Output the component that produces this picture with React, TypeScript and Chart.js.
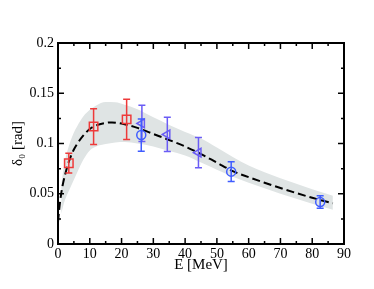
import { useEffect, useRef } from 'react';
import { Chart, registerables } from 'chart.js';

Chart.register(...registerables);

// Axis ticks
const xMajor = [0, 10, 20, 30, 40, 50, 60, 70, 80, 90];
const xMinor = [5, 15, 25, 35, 45, 55, 65, 75, 85];
const xTickLabels = ['0', '10', '20', '30', '40', '50', '60', '70', '80', '90'];
const yMajor = [0, 0.05, 0.1, 0.15, 0.2];
const yMinor = [0.025, 0.075, 0.125, 0.175];
const yTickLabels = ['0', '0.05', '0.1', '0.15', '0.2'];

// Theory curve (dashed)
const curveE = [0, 0.5, 1, 1.5, 2, 3, 4, 5, 6, 8, 10, 12, 15, 17, 20, 25, 30, 35, 40, 45, 50, 55, 60, 65, 70, 75, 80, 86.5];
const curveV = [0.022, 0.038, 0.05, 0.059, 0.066, 0.078, 0.087, 0.094, 0.0995, 0.108, 0.1145, 0.118, 0.1205, 0.121, 0.1198, 0.1155, 0.1095, 0.1035, 0.097, 0.0895, 0.081, 0.0725, 0.0665, 0.061, 0.0557, 0.0507, 0.046, 0.0405];

// Uncertainty band
const bandE = [1, 2, 3, 4, 5, 6, 8, 10, 12, 15, 18, 21, 25, 30, 35, 40, 45, 50, 55, 60, 65, 70, 75, 80, 86.5];
const bandUpper = [0.058, 0.08, 0.093, 0.103, 0.111, 0.117, 0.127, 0.1335, 0.1378, 0.1412, 0.141, 0.1385, 0.134, 0.126, 0.1185, 0.1115, 0.105, 0.096, 0.0865, 0.078, 0.0715, 0.0655, 0.06, 0.0545, 0.048];
const bandLower = [0.03, 0.042, 0.05, 0.057, 0.064, 0.071, 0.084, 0.093, 0.097, 0.0995, 0.101, 0.1015, 0.1, 0.097, 0.0925, 0.088, 0.081, 0.074, 0.067, 0.061, 0.0555, 0.05, 0.045, 0.04, 0.034];

// Data sets
const redE = [3.4, 11.2, 21.6];
const redV = [0.0804, 0.1168, 0.124];
const redErr = [0.0098, 0.0178, 0.02];

const triE = [26.4, 34.4, 44.2];
const triV = [0.12, 0.109, 0.0909];
const triErr = [0.018, 0.017, 0.015];

const circE = [26.2, 54.5, 82.5];
const circV = [0.1084, 0.072, 0.0417];
const circErr = [0.016, 0.0099, 0.0062];

const RED = '#ee3a3a';
const BLUE = '#3f5cff';
const VIOLET = '#6a5cf5';
const FONT = "'Liberation Serif', 'DejaVu Serif', serif";

const pts = (xs: number[], ys: number[]) => xs.map((x, i) => ({ x, y: ys[i] }));

const errorBarPlugin = {
  id: 'errorBars',
  beforeDatasetDraw(chart: any, args: any) {
    const ds = chart.data.datasets[args.index];
    if (!ds.errors) return;
    const { ctx, scales } = chart;
    ctx.save();
    ctx.strokeStyle = ds.borderColor;
    ctx.lineWidth = 1.5;
    args.meta.data.forEach((el: any, i: number) => {
      const v = ds.data[i].y;
      const e = ds.errors[i];
      const yt = scales.y.getPixelForValue(v + e);
      const yb = scales.y.getPixelForValue(v - e);
      const x = el.x;
      ctx.beginPath();
      ctx.moveTo(x, yt);
      ctx.lineTo(x, yb);
      ctx.moveTo(x - 3.5, yt);
      ctx.lineTo(x + 3.5, yt);
      ctx.moveTo(x - 3.5, yb);
      ctx.lineTo(x + 3.5, yb);
      ctx.stroke();
    });
    ctx.restore();
  },
};

const framePlugin = {
  id: 'frame',
  afterDraw(chart: any) {
    const { ctx, chartArea: a, scales } = chart;
    ctx.save();
    ctx.strokeStyle = '#000';
    ctx.lineWidth = 1.5;
    const tickX = (v: number, len: number) => {
      const px = scales.x.getPixelForValue(v);
      ctx.beginPath();
      ctx.moveTo(px, a.bottom);
      ctx.lineTo(px, a.bottom - len);
      ctx.moveTo(px, a.top);
      ctx.lineTo(px, a.top + len);
      ctx.stroke();
    };
    const tickY = (v: number, len: number) => {
      const py = scales.y.getPixelForValue(v);
      ctx.beginPath();
      ctx.moveTo(a.left, py);
      ctx.lineTo(a.left + len, py);
      ctx.moveTo(a.right, py);
      ctx.lineTo(a.right - len, py);
      ctx.stroke();
    };
    xMajor.forEach((v) => tickX(v, 6));
    xMinor.forEach((v) => tickX(v, 3));
    yMajor.forEach((v) => tickY(v, 6));
    yMinor.forEach((v) => tickY(v, 3));
    ctx.lineWidth = 2;
    ctx.strokeRect(a.left, a.top, a.right - a.left, a.bottom - a.top);
    ctx.restore();
  },
};

export default function App() {
  const ref = useRef<HTMLCanvasElement | null>(null);

  useEffect(() => {
    if (!ref.current) return;
    const chart = new Chart(ref.current, {
      type: 'scatter',
      data: {
        datasets: [
          {
            type: 'line',
            data: pts(bandE, bandUpper),
            borderWidth: 0,
            pointRadius: 0,
            backgroundColor: '#dfe4e4',
            fill: '+1',
            cubicInterpolationMode: 'monotone',
            order: 5,
          },
          {
            type: 'line',
            data: pts(bandE, bandLower),
            borderWidth: 0,
            pointRadius: 0,
            backgroundColor: '#dfe4e4',
            fill: false,
            cubicInterpolationMode: 'monotone',
            order: 4,
          },
          {
            type: 'line',
            data: pts(curveE, curveV),
            borderColor: '#000',
            borderWidth: 2,
            borderDash: [8, 4],
            pointRadius: 0,
            fill: false,
            cubicInterpolationMode: 'monotone',
            order: 3,
          },
          {
            data: pts(redE, redV),
            errors: redErr,
            borderColor: RED,
            backgroundColor: 'rgba(0,0,0,0)',
            borderWidth: 1.5,
            pointStyle: 'rect',
            pointRadius: 6,
            order: 2,
          } as any,
          {
            data: pts(triE, triV),
            errors: triErr,
            borderColor: VIOLET,
            backgroundColor: 'rgba(0,0,0,0)',
            borderWidth: 1.5,
            pointStyle: 'triangle',
            rotation: -90,
            pointRadius: 5,
            order: 1,
          } as any,
          {
            data: pts(circE, circV),
            errors: circErr,
            borderColor: BLUE,
            backgroundColor: 'rgba(0,0,0,0)',
            borderWidth: 1.5,
            pointStyle: 'circle',
            pointRadius: 4.5,
            order: 0,
          } as any,
        ],
      },
      options: {
        animation: false,
        responsive: true,
        maintainAspectRatio: false,
        layout: { padding: { top: 43, right: 30, left: 0, bottom: 0 } },
        plugins: { legend: { display: false }, tooltip: { enabled: false } },
        scales: {
          x: {
            type: 'linear',
            min: 0,
            max: 90,
            afterFit: (s: any) => {
              s.height = 45;
            },
            afterBuildTicks: (s: any) => {
              s.ticks = xMajor.map((v) => ({ value: v }));
            },
            ticks: {
              color: '#000',
              padding: 2,
              maxRotation: 0,
              font: { family: FONT, size: 14 },
              callback: (v: any) => xTickLabels[xMajor.indexOf(Number(v))] ?? '',
            },
            grid: { display: false, drawTicks: false },
            border: { display: false },
            title: {
              display: true,
              text: 'E [MeV]',
              color: '#000',
              font: { family: FONT, size: 15 },
              padding: { top: 0, bottom: 15 },
            },
          },
          y: {
            type: 'linear',
            min: 0,
            max: 0.2,
            afterFit: (s: any) => {
              s.width = 58;
            },
            afterBuildTicks: (s: any) => {
              s.ticks = yMajor.map((v) => ({ value: v }));
            },
            ticks: {
              color: '#000',
              padding: 4,
              font: { family: FONT, size: 14 },
              callback: (v: any) => {
                const i = yMajor.findIndex((t) => Math.abs(t - Number(v)) < 1e-9);
                return i >= 0 ? yTickLabels[i] : '';
              },
            },
            grid: { display: false, drawTicks: false },
            border: { display: false },
            title: {
              display: true,
              text: 'δ₀ [rad]',
              color: '#000',
              font: { family: FONT, size: 15 },
              padding: { top: 9, bottom: 0 },
            },
          },
        },
      },
      plugins: [errorBarPlugin, framePlugin],
    } as any);
    return () => chart.destroy();
  }, []);

  return (
    <div style={{ position: 'absolute', left: 0, top: 0, width: 374, height: 289 }}>
      <canvas ref={ref} />
    </div>
  );
}
